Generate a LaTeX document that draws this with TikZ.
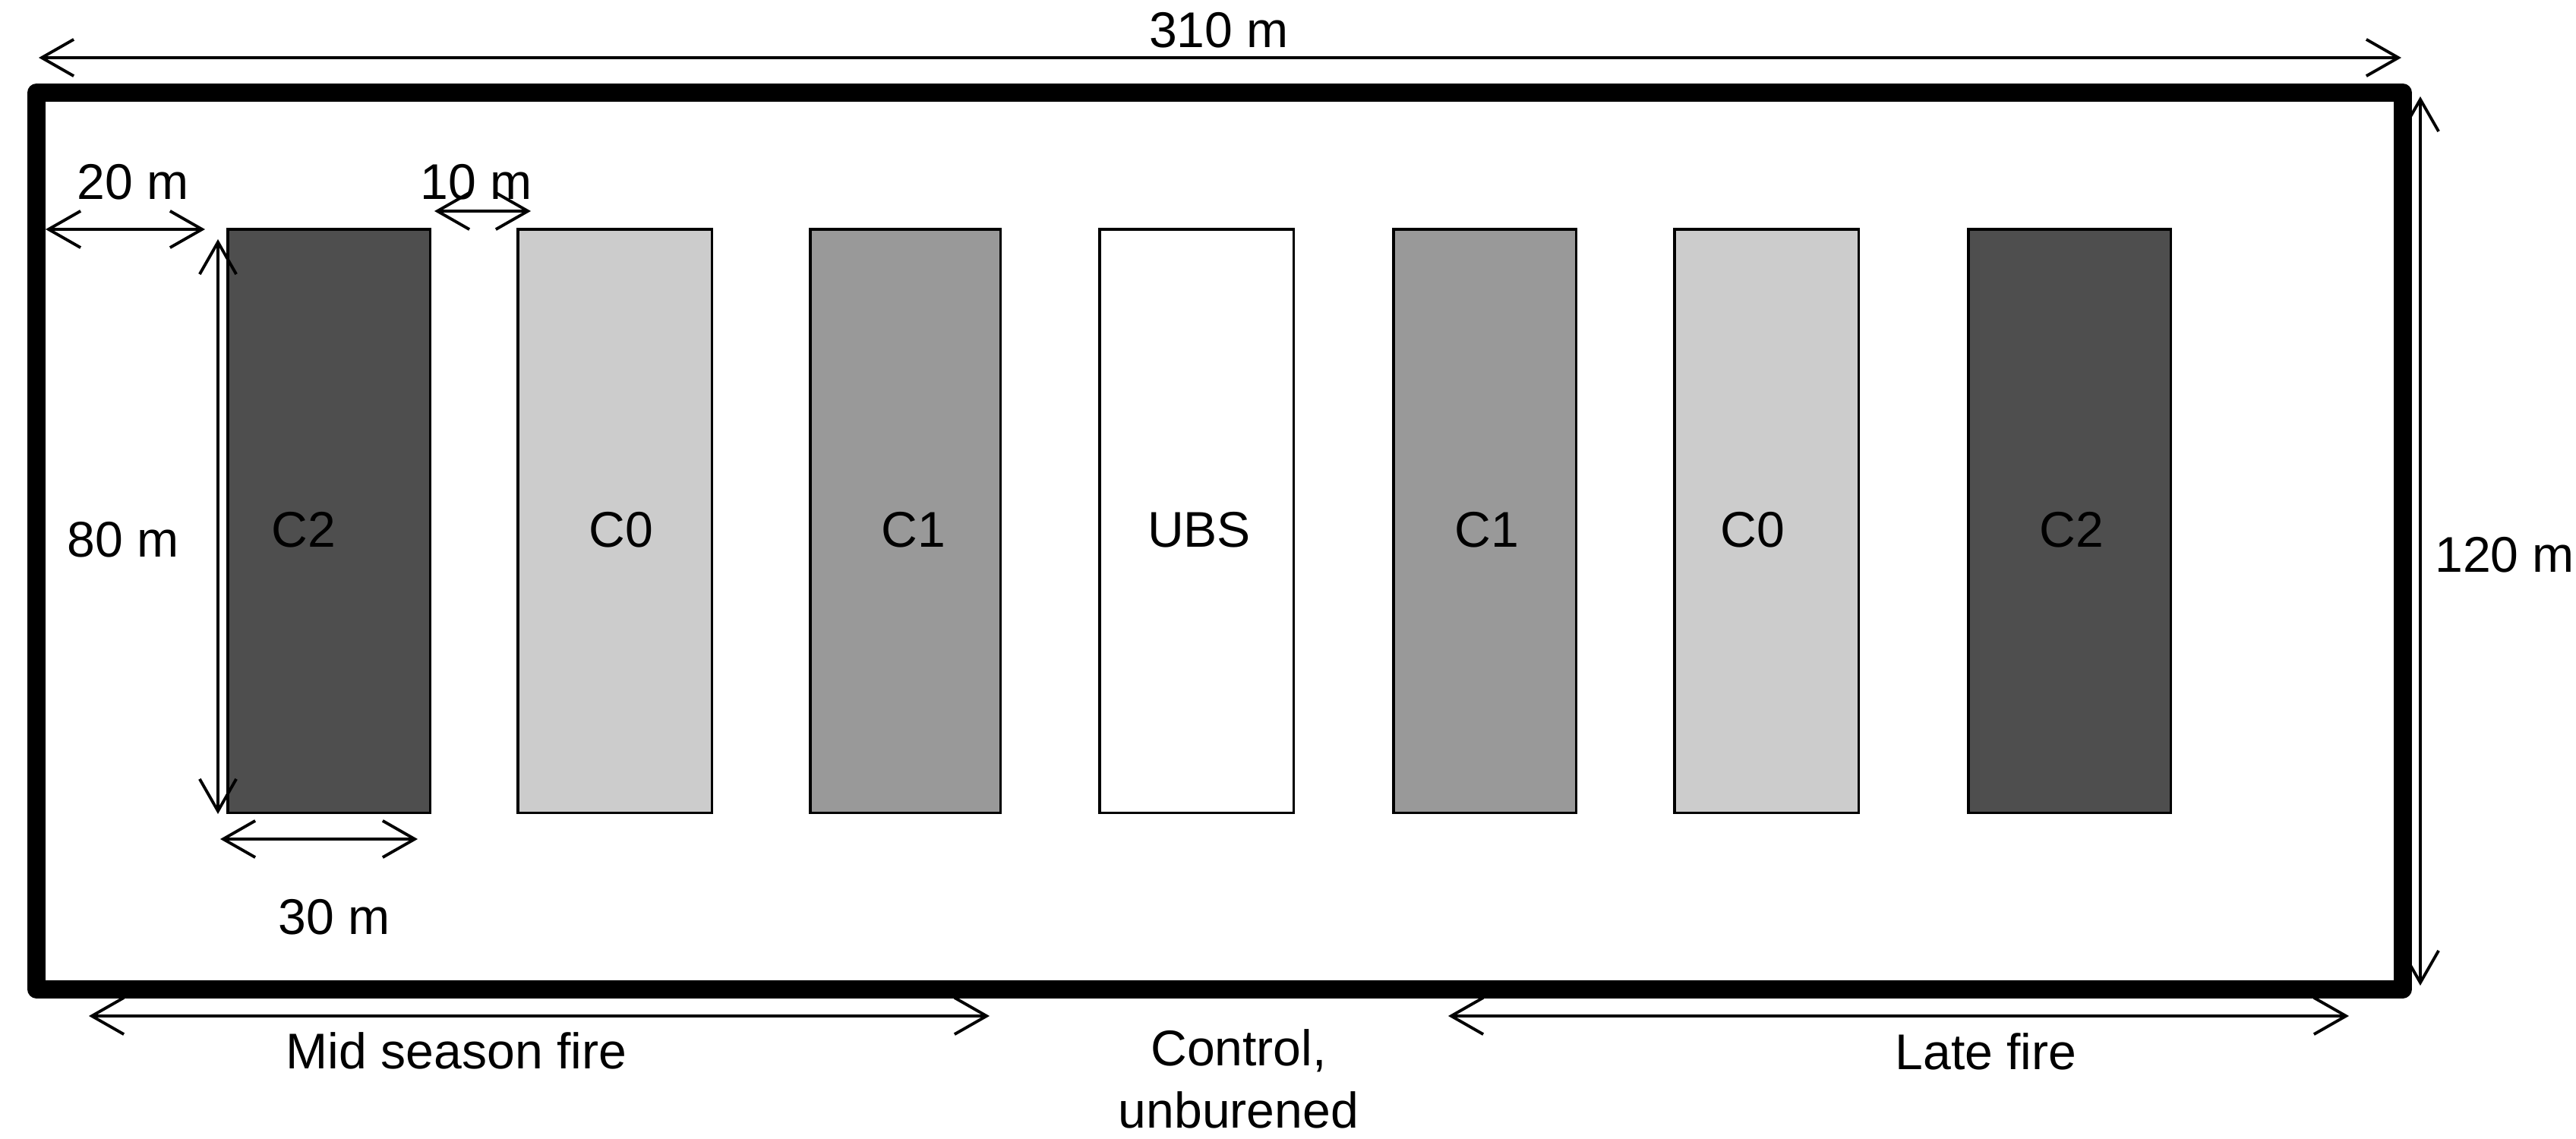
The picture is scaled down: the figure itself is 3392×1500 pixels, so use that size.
\documentclass[tikz,border=0pt]{standalone}
\usepackage{fontspec}
\setmainfont{Liberation Sans}
\usetikzlibrary{arrows.meta}
\begin{document}
\begin{tikzpicture}[x=0.01cm,y=-0.01cm,
  dimline/.style={line width=1.1pt, {Straight Barb[length=12pt,width=13.7pt]}-{Straight Barb[length=12pt,width=13.7pt]}},
  lbl/.style={font=\fontsize{18.8}{23.3}\selectfont, inner sep=0pt, outer sep=0pt},
  plotbox/.style={draw=black, line width=0.9pt, inner sep=0pt, outer sep=0pt, anchor=north west},
  fieldframe/.style={draw=black, line width=6.8pt, line join=round, inner sep=0pt, outer sep=0pt, anchor=north west}]
\useasboundingbox (0,0) rectangle (3392,1500);
\fill[white] (0,0) rectangle (3392,1500);
\definecolor{ctwo}{HTML}{4E4E4E}
\definecolor{czero}{HTML}{CCCCCC}
\definecolor{cone}{HTML}{999999}
% field frame
\node[fieldframe, minimum width=31.14cm, minimum height=11.80cm] (field) at (48,122) {};
% plots
\node[plotbox, fill=ctwo,  minimum width=2.66cm, minimum height=7.68cm] (p1) at (300,302) {};
\node[plotbox, fill=czero, minimum width=2.55cm, minimum height=7.68cm] (p2) at (682,302) {};
\node[plotbox, fill=cone,  minimum width=2.50cm, minimum height=7.68cm] (p3) at (1067,302) {};
\node[plotbox, fill=white, minimum width=2.55cm, minimum height=7.68cm] (p4) at (1448,302) {};
\node[plotbox, fill=cone,  minimum width=2.40cm, minimum height=7.68cm] (p5) at (1835,302) {};
\node[plotbox, fill=czero, minimum width=2.42cm, minimum height=7.68cm] (p6) at (2205,302) {};
\node[plotbox, fill=ctwo,  minimum width=2.66cm, minimum height=7.68cm] (p7) at (2592,302) {};
% plot labels
\node[lbl, anchor=base] (l1) at (400,720) {C2};
\node[lbl, anchor=base] (l2) at (818,720) {C0};
\node[lbl, anchor=base] (l3) at (1203,720) {C1};
\node[lbl, anchor=base] (l4) at (1579,720) {UBS};
\node[lbl, anchor=base] (l5) at (1958,720) {C1};
\node[lbl, anchor=base] (l6) at (2308,720) {C0};
\node[lbl, anchor=base] (l7) at (2728,720) {C2};
% dimension end points
\coordinate (ta) at (51,76);    \coordinate (tb) at (3162,76);
\coordinate (ra) at (3187,127); \coordinate (rb) at (3187,1298);
\coordinate (wa) at (60,302);   \coordinate (wb) at (270,302);
\coordinate (ga) at (572,278);  \coordinate (gb) at (699,278);
\coordinate (ha) at (287,315);  \coordinate (hb) at (287,1072);
\coordinate (pa) at (290,1105); \coordinate (pb) at (550,1105);
\coordinate (ma) at (117,1338); \coordinate (mb) at (1303,1338);
\coordinate (la) at (1907,1338);\coordinate (lb) at (3093,1338);
\draw[dimline] (ta) -- (tb);
\draw[dimline] (ra) -- (rb);
\draw[dimline] (wa) -- (wb);
\draw[dimline] (ga) -- (gb);
\draw[dimline] (ha) -- (hb);
\draw[dimline] (pa) -- (pb);
\draw[dimline] (ma) -- (mb);
\draw[dimline] (la) -- (lb);
% dimension labels
\node[lbl, anchor=base] (d310) at (1605,63) {310 m};
\node[lbl, anchor=base east] (d120) at (3390,753) {120 m};
\node[lbl, anchor=base] (d20) at (175,263) {20 m};
\node[lbl, anchor=base] (d10) at (627,263) {10 m};
\node[lbl, anchor=base] (d80) at (162,733) {80 m};
\node[lbl, anchor=base] (d30) at (440,1230) {30 m};
\node[lbl, anchor=base] (tmid) at (601,1407) {Mid season fire};
\node[lbl, anchor=base] (tctl) at (1631,1403) {Control,};
\node[lbl, anchor=base] (tctl2) at (1631,1485) {unburened};
\node[lbl, anchor=base] (tlate) at (2615,1408) {Late fire};
\end{tikzpicture}
\end{document}
